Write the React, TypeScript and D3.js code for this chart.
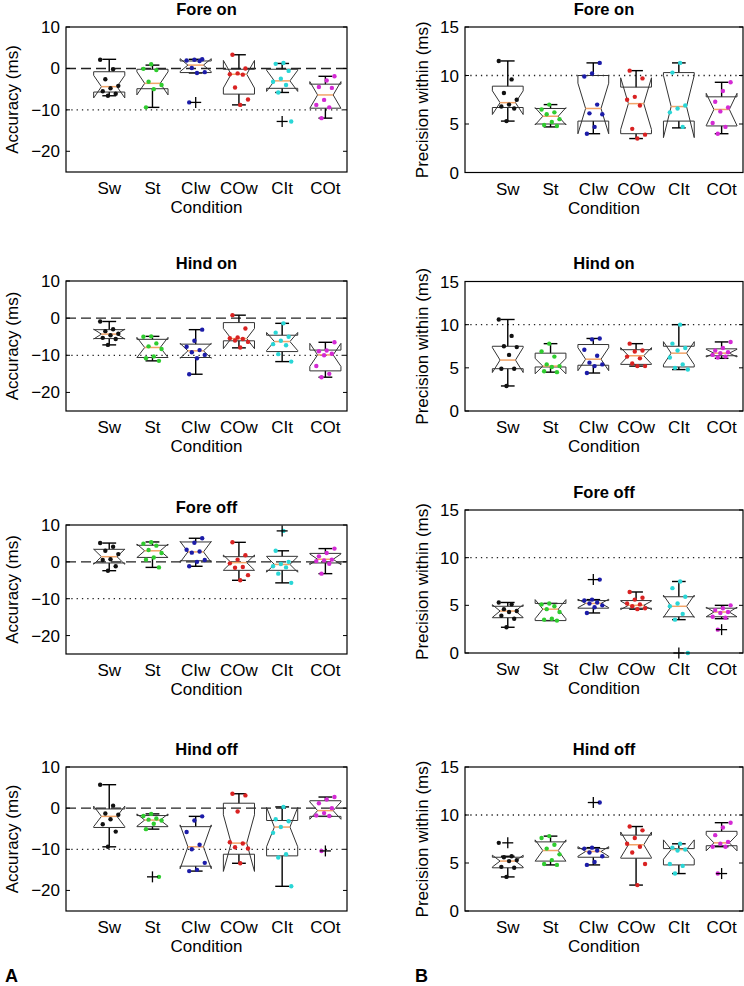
import React from "react";
import * as d3 from "d3";

const conditions = ["Sw", "St", "CIw", "COw", "CIt", "COt"];
const conditionColors = ["#111111", "#2fcc2f", "#1c1ca8", "#d92222", "#2ad6d6", "#d42ad4"];

const accuracyTicks = [-20, -10, 0, 10];
const precisionTicks = [0, 5, 10, 15];

// box stats: [lowerWhisker, q1, median, q3, upperWhisker]
const foreOnAccStats = [
  [-6.6, -5.7, -4.4, -0.8, 2.2],
  [-9.4, -4.9, -3.6, -0.2, 0.8],
  [-1.1, -1.0, 0.8, 1.8, 2.2],
  [-8.8, -6.2, -1.4, -0.2, 3.3],
  [-5.8, -4.8, -3.0, -0.2, 1.2],
  [-12.0, -9.6, -6.4, -3.8, -1.9],
];
const foreOnAccPoints = [
  [2.1, -0.2, -2.6, -4.2, -4.8, -5.5, -6.1, -6.6],
  [1.0, -0.1, -0.4, -3.2, -4.0, -5.0, -9.4],
  [2.2, 2.1, 1.9, 1.8, 0.1, -0.9, -1.1, -8.2],
  [3.3, 0.0, -1.2, -1.4, -1.5, -4.6, -7.5, -8.8],
  [1.3, 1.1, -0.6, -2.5, -3.2, -4.0, -5.8, -12.8],
  [-1.9, -2.9, -4.5, -4.7, -7.6, -8.8, -9.4, -12.0],
];
const foreOnAccOutliers = [[], [], [-8.2], [], [-12.8], []];

const foreOnPrecStats = [
  [5.3, 6.7, 7.2, 8.9, 11.5],
  [4.7, 5.0, 5.8, 6.6, 7.0],
  [4.0, 5.3, 6.6, 10.0, 11.3],
  [3.5, 4.0, 7.1, 8.8, 10.5],
  [4.6, 5.3, 6.8, 10.3, 11.3],
  [4.0, 4.8, 6.5, 7.8, 9.3],
];
const foreOnPrecPoints = [
  [11.5, 9.6, 8.2, 7.5, 7.0, 6.8, 6.6, 5.3],
  [7.0, 6.5, 6.2, 6.0, 5.5, 5.2, 4.9, 4.8],
  [11.3, 10.2, 9.9, 7.0, 6.1, 6.0, 4.7, 4.0],
  [10.5, 9.7, 7.8, 7.5, 6.9, 4.5, 3.9, 3.5],
  [11.3, 10.3, 6.9, 6.6, 6.2, 4.7],
  [9.3, 8.4, 7.3, 6.7, 6.3, 5.1, 4.7, 4.0],
];
const foreOnPrecOutliers = [[], [], [], [], [], []];

const hindOnAccStats = [
  [-7.2, -5.5, -4.3, -3.1, -0.9],
  [-11.5, -10.6, -7.9, -5.7, -4.9],
  [-15.1, -10.6, -8.8, -7.0, -3.1],
  [-8.0, -6.1, -5.5, -1.2, 0.8],
  [-11.7, -9.0, -6.3, -4.6, -1.4],
  [-15.9, -14.2, -9.9, -8.6, -6.5],
];
const hindOnAccPoints = [
  [-0.9, -3.0, -3.5, -4.2, -4.6, -5.3, -5.6, -7.2],
  [-4.9, -5.0, -6.8, -7.6, -8.3, -10.3, -10.8, -11.5],
  [-3.1, -6.1, -7.7, -8.6, -9.2, -9.9, -10.8, -15.1],
  [0.8, -2.8, -5.2, -5.4, -5.6, -6.0, -6.4, -7.9],
  [-1.4, -3.9, -5.0, -6.1, -7.0, -7.3, -9.7, -11.7],
  [-6.5, -8.7, -8.9, -9.6, -10.0, -12.9, -15.0, -15.9],
];
const hindOnAccOutliers = [[], [], [], [], [], []];

const hindOnPrecStats = [
  [2.9, 4.9, 5.9, 7.5, 10.6],
  [4.5, 5.1, 5.2, 6.7, 7.8],
  [4.4, 5.3, 6.0, 7.7, 8.4],
  [5.2, 5.4, 6.4, 7.1, 7.8],
  [4.8, 5.1, 6.7, 7.5, 10.0],
  [6.1, 6.4, 6.7, 7.2, 8.0],
];
const hindOnPrecPoints = [
  [10.6, 8.7, 7.5, 7.4, 6.5, 4.9, 4.9, 2.9],
  [7.8, 6.9, 6.3, 5.4, 5.2, 5.1, 4.6, 4.5],
  [8.4, 8.3, 7.1, 6.4, 5.6, 5.4, 5.2, 4.4],
  [7.8, 7.0, 6.9, 6.3, 6.1, 5.5, 5.2, 5.2],
  [10.0, 7.8, 7.3, 7.0, 6.2, 5.4, 5.0, 4.8],
  [8.0, 7.3, 7.0, 6.8, 6.7, 6.5, 6.3, 6.2],
];
const hindOnPrecOutliers = [[], [], [], [], [], []];

const foreOffAccStats = [
  [-2.4, -0.3, 1.4, 3.4, 5.1],
  [-1.5, 1.2, 3.0, 4.5, 5.4],
  [-1.2, 0.3, 2.7, 5.4, 6.4],
  [-5.0, -2.3, -0.2, 1.4, 5.3],
  [-5.7, -2.3, -0.7, 1.5, 3.0],
  [-3.2, -0.3, 0.7, 2.3, 3.6],
];
const foreOffAccPoints = [
  [5.1, 4.1, 3.0, 2.1, 0.7, 0.5, -1.2, -2.4],
  [5.3, 4.9, 4.4, 3.2, 2.4, 1.2, 0.6, -1.5],
  [6.4, 5.2, 3.3, 2.8, 2.5, 0.5, 0.0, -1.2],
  [5.3, 1.8, 0.6, -0.4, -1.4, -1.6, -3.6, -5.0],
  [8.4, 3.0, 0.0, -0.6, -1.2, -1.5, -3.2, -5.7],
  [3.6, 2.4, 1.5, 0.6, 0.4, 0.2, -0.5, -3.2],
];
const foreOffAccOutliers = [[], [], [], [], [8.4], []];

const foreOffPrecStats = [
  [2.7, 3.7, 4.4, 4.9, 5.3],
  [3.4, 3.4, 4.6, 5.2, 5.2],
  [4.2, 4.7, 5.2, 5.5, 5.6],
  [4.6, 4.7, 5.0, 5.5, 6.4],
  [3.5, 3.8, 4.9, 5.9, 7.5],
  [3.6, 3.8, 4.3, 4.7, 5.0],
];
const foreOffPrecPoints = [
  [5.3, 5.1, 4.6, 4.4, 4.3, 3.9, 3.6, 2.7],
  [5.2, 5.1, 4.9, 4.6, 4.3, 3.6, 3.5, 3.4],
  [7.7, 5.6, 5.5, 5.3, 5.2, 5.0, 4.8, 4.2],
  [6.4, 5.8, 5.6, 5.2, 5.1, 4.9, 4.7, 4.6],
  [7.5, 6.8, 5.9, 5.2, 4.9, 4.1, 3.5, 0.0],
  [5.0, 4.7, 4.5, 4.3, 4.2, 3.8, 3.7, 2.45],
];
const foreOffPrecOutliers = [[], [], [7.7], [], [0.0], [2.45]];

const hindOffAccStats = [
  [-9.4, -4.7, -2.0, -0.2, 5.7],
  [-5.1, -4.5, -2.9, -1.8, -1.4],
  [-15.3, -14.1, -9.4, -4.5, -2.0],
  [-13.4, -11.2, -8.5, 1.2, 3.5],
  [-19.0, -11.6, -4.6, -3.0, 0.3],
  [-2.0, -2.0, -0.6, 1.8, 2.7],
];
const hindOffAccPoints = [
  [5.7, 0.6, -1.3, -1.6, -2.7, -3.9, -5.7, -9.4],
  [-1.4, -1.9, -2.5, -2.8, -3.0, -3.8, -5.1, -16.7],
  [-2.0, -3.0, -5.8, -8.9, -10.0, -13.3, -15.0, -15.3],
  [3.5, 3.1, -0.8, -8.3, -8.6, -9.5, -9.8, -13.4],
  [0.3, -2.7, -3.2, -4.6, -6.0, -11.2, -12.0, -19.0],
  [2.7, 2.1, 1.2, 0.0, -1.2, -1.8, -1.9, -10.4],
];
const hindOffAccOutliers = [[], [-16.7], [], [], [], [-10.4]];

const hindOffPrecStats = [
  [3.55, 4.5, 5.2, 5.6, 5.7],
  [4.8, 5.2, 6.3, 7.2, 7.8],
  [4.8, 5.6, 6.2, 6.5, 6.6],
  [2.7, 5.5, 6.9, 7.9, 8.8],
  [3.9, 4.8, 6.4, 6.5, 7.0],
  [6.7, 6.8, 7.1, 8.3, 9.2],
];
const hindOffPrecPoints = [
  [7.1, 5.7, 5.6, 5.3, 5.2, 4.6, 4.5, 3.55],
  [7.8, 7.6, 6.9, 6.5, 5.9, 5.3, 4.9, 4.8],
  [11.3, 6.6, 6.5, 6.3, 6.1, 5.7, 5.1, 4.8],
  [8.8, 8.4, 7.6, 7.0, 6.7, 6.1, 4.9, 2.7],
  [7.0, 6.6, 6.4, 6.3, 4.9, 4.7, 3.9],
  [9.2, 8.7, 7.9, 7.2, 7.0, 6.7, 6.7, 3.9],
];
const hindOffPrecOutliers = [[7.1], [], [11.3], [], [], [3.9]];

const titles = ["Fore on", "Fore on", "Hind on", "Hind on", "Fore off", "Fore off", "Hind off", "Hind off"];

const panelData = [
  { stats: foreOnAccStats, points: foreOnAccPoints, outliers: foreOnAccOutliers, kind: "acc" },
  { stats: foreOnPrecStats, points: foreOnPrecPoints, outliers: foreOnPrecOutliers, kind: "prec" },
  { stats: hindOnAccStats, points: hindOnAccPoints, outliers: hindOnAccOutliers, kind: "acc" },
  { stats: hindOnPrecStats, points: hindOnPrecPoints, outliers: hindOnPrecOutliers, kind: "prec" },
  { stats: foreOffAccStats, points: foreOffAccPoints, outliers: foreOffAccOutliers, kind: "acc" },
  { stats: foreOffPrecStats, points: foreOffPrecPoints, outliers: foreOffPrecOutliers, kind: "prec" },
  { stats: hindOffAccStats, points: hindOffAccPoints, outliers: hindOffAccOutliers, kind: "acc" },
  { stats: hindOffPrecStats, points: hindOffPrecPoints, outliers: hindOffPrecOutliers, kind: "prec" },
];

// layout frames (pixels)
const frames = [
  { x0: 66, x1: 347, y0: 27, y1: 172 },
  { x0: 465, x1: 743, y0: 27, y1: 172.5 },
  { x0: 66, x1: 347, y0: 281, y1: 411 },
  { x0: 465, x1: 743, y0: 281.5, y1: 411 },
  { x0: 66, x1: 347, y0: 525, y1: 654 },
  { x0: 465, x1: 743, y0: 510, y1: 653 },
  { x0: 66, x1: 347, y0: 767, y1: 911 },
  { x0: 465, x1: 743, y0: 767, y1: 911 },
];

const FONT = "'Liberation Sans', Arial, Helvetica, sans-serif";

function jitter(i: number, c: number) {
  return (((i * 5 + c * 3) % 8) / 7 - 0.5) * 0.42;
}

function Panel({ data, frame, title }: any) {
  const { x0, x1, y0, y1 } = frame;
  const isAcc = data.kind === "acc";
  const x = d3.scaleLinear().domain([0, 6.5]).range([x0, x1]);
  const y = d3.scaleLinear().domain(isAcc ? [-25, 10] : [0, 15]).range([y1, y0]);
  const ticks = isAcc ? accuracyTicks : precisionTicks;
  const unit = x(1) - x(0);
  const hw = unit * 0.36;
  const inset = hw * 0.5;
  const capHw = unit * 0.16;
  const cx = (x0 + x1) / 2;
  const cy = (y0 + y1) / 2;

  return (
    <g>
      <text x={cx} y={y0 - 12.5} textAnchor="middle" fontWeight="bold" fontSize={16.5} fontFamily={FONT}>
        {title}
      </text>
      {isAcc && (
        <line x1={x0} x2={x1} y1={y(0)} y2={y(0)} stroke="#222" strokeWidth={1.4} strokeDasharray="10,5" />
      )}
      <line
        x1={x0}
        x2={x1}
        y1={y(isAcc ? -10 : 10)}
        y2={y(isAcc ? -10 : 10)}
        stroke="#222"
        strokeWidth={1.3}
        strokeDasharray="1.3,4"
      />
      {data.stats.map((s: number[], c: number) => {
        const [wlo, q1, med, q3, whi] = s;
        const n = data.points[c].length;
        const nh = (1.57 * (q3 - q1)) / Math.sqrt(n);
        const nlo = med - nh;
        const nhi = med + nh;
        const px = x(c + 1);
        const L = px - hw;
        const R = px + hw;
        const path = d3.path();
        path.moveTo(L, y(q1));
        path.lineTo(L, y(nlo));
        path.lineTo(L + inset, y(med));
        path.lineTo(L, y(nhi));
        path.lineTo(L, y(q3));
        path.lineTo(R, y(q3));
        path.lineTo(R, y(nhi));
        path.lineTo(R - inset, y(med));
        path.lineTo(R, y(nlo));
        path.lineTo(R, y(q1));
        path.closePath();
        return (
          <g key={c}>
            <line x1={px} x2={px} y1={y(q3)} y2={y(whi)} stroke="#000" strokeWidth={1.4} />
            <line x1={px} x2={px} y1={y(q1)} y2={y(wlo)} stroke="#000" strokeWidth={1.4} />
            <line x1={px - capHw} x2={px + capHw} y1={y(whi)} y2={y(whi)} stroke="#000" strokeWidth={1.4} />
            <line x1={px - capHw} x2={px + capHw} y1={y(wlo)} y2={y(wlo)} stroke="#000" strokeWidth={1.4} />
            <path d={path.toString()} fill="none" stroke="#333" strokeWidth={1} />
            <line x1={L + inset} x2={R - inset} y1={y(med)} y2={y(med)} stroke="#f2a468" strokeWidth={1.5} />
          </g>
        );
      })}
      {data.points.map((pts: number[], c: number) =>
        pts.map((v: number, i: number) => (
          <circle key={`p${c}-${i}`} cx={x(c + 1 + jitter(i, c))} cy={y(v)} r={2.2} fill={conditionColors[c]} />
        ))
      )}
      {data.outliers.map((outs: number[], c: number) =>
        outs.map((v: number, i: number) => (
          <g key={`o${c}-${i}`} stroke="#000" strokeWidth={1.3}>
            <line x1={x(c + 1) - 5.5} x2={x(c + 1) + 5.5} y1={y(v)} y2={y(v)} />
            <line x1={x(c + 1)} x2={x(c + 1)} y1={y(v) - 5.5} y2={y(v) + 5.5} />
          </g>
        ))
      )}
      <rect x={x0} y={y0} width={x1 - x0} height={y1 - y0} fill="none" stroke="#000" strokeWidth={1.2} />
      {ticks.map((t) => (
        <g key={t}>
          <line x1={x0} x2={x0 + 4} y1={y(t)} y2={y(t)} stroke="#000" strokeWidth={1} />
          <line x1={x1 - 4} x2={x1} y1={y(t)} y2={y(t)} stroke="#000" strokeWidth={1} />
          <text x={x0 - 6} y={y(t) + 6} textAnchor="end" fontSize={17} fontFamily={FONT}>
            {t < 0 ? `\u2212${Math.abs(t)}` : `${t}`}
          </text>
        </g>
      ))}
      {conditions.map((c, i) => (
        <text key={c} x={x(i + 1)} y={y1 + 22} textAnchor="middle" fontSize={17} fontFamily={FONT}>
          {c}
        </text>
      ))}
      <text x={cx} y={y1 + 41} textAnchor="middle" fontSize={17} fontFamily={FONT}>
        Condition
      </text>
      <text
        transform={`translate(${isAcc ? x0 - 48 : x0 - 37},${cy}) rotate(-90)`}
        textAnchor="middle"
        fontSize={17}
        fontFamily={FONT}
      >
        {isAcc ? "Accuracy (ms)" : "Precision within (ms)"}
      </text>
    </g>
  );
}

export default function App() {
  return (
    <svg
      width={744}
      height={986}
      viewBox="0 0 744 986"
      style={{ position: "absolute", left: 0, top: 0, background: "#fff" }}
    >
      <rect x={0} y={0} width={744} height={986} fill="#fff" />
      {panelData.map((d, i) => (
        <Panel key={i} data={d} frame={frames[i]} title={titles[i]} />
      ))}
      <text x={5} y={982} fontSize={18} fontWeight="bold" fontFamily={FONT}>
        A
      </text>
      <text x={415} y={982} fontSize={18} fontWeight="bold" fontFamily={FONT}>
        B
      </text>
    </svg>
  );
}
